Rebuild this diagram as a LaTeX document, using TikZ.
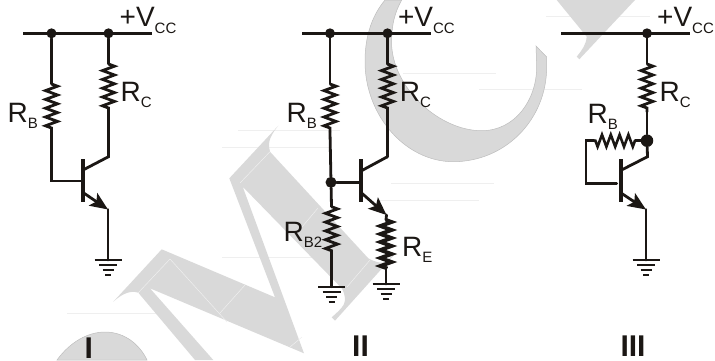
\documentclass[tikz,border=0pt]{standalone}
\usepackage{fontspec}
\setmainfont{Liberation Sans}
\usetikzlibrary{arrows.meta,decorations.pathmorphing}
\definecolor{ink}{HTML}{1B1714}
\definecolor{wm}{HTML}{D9D9D9}
\definecolor{wmedge}{HTML}{BDBDBD}
\definecolor{faint}{HTML}{EFEFEF}
\newcommand{\lab}[2]{{\fontsize{28}{30}\selectfont #1}\raisebox{-5.7pt}{\fontsize{15}{16}\selectfont #2}}
\newcommand{\vcc}{{\fontsize{28}{30}\selectfont +V}\raisebox{-6.5pt}{\fontsize{15}{16}\selectfont CC}}
\tikzset{
  wire/.style={draw=ink,line width=2.8pt,line cap=round,line join=miter},
  busline/.style={draw=ink,line width=3.2pt},
  zig/.style={draw=ink,line width=2.8pt,decorate,decoration={zigzag,segment length=8.8pt,amplitude=6pt}},
  zigheavy/.style={draw=ink,line width=3.8pt,decorate,decoration={zigzag,segment length=8pt,amplitude=5.6pt}},
  bar/.style={draw=ink,line width=3.4pt},
  emit/.style={draw=ink,line width=2.8pt,-{Stealth[length=18pt,width=15pt,inset=4pt]}},
  dot/.style={circle,fill=ink,inner sep=0pt,minimum size=10pt},
  bigdot/.style={circle,fill=ink,inner sep=0pt,minimum size=12.5pt},
  lbl/.style={inner sep=0pt,anchor=base west,text=ink},
  roman/.style={inner sep=0pt,anchor=base,text=ink,font=\bfseries\fontsize{30}{32}\selectfont},
  wmark/.style={fill=wm,draw=none},
  wmarkedge/.style={fill=wm,draw=wmedge,line width=0.5pt},
  fl/.style={draw=faint,line width=0.7pt},
  gnd/.pic={
    \draw[ink,line width=2.4pt] (-13.5,0) -- (13.5,0);
    \draw[ink,line width=2.4pt] (-9,5) -- (9,5);
    \draw[ink,line width=2.4pt] (-5.5,10) -- (5.5,10);
    \draw[ink,line width=2.4pt] (-3,15) -- (3,15);
  }
}
\begin{document}
\begin{tikzpicture}[x=1pt,y=-1pt]
\useasboundingbox (0,0) rectangle (715,360);
% faint scan lines
\foreach \a/\b/\y in {238/340/130,222/330/147,222/325/257,67/170/313,403/496/73,479/582/89,546/650/16,391/494/183,380/479/200}
  \draw[fl] (\a,\y) -- (\b,\y);
% watermark M
\fill[wmark] (278.3,125.7) .. controls (268,138) and (268,145) .. (270,151.7)
  -- (368.3,258.3) .. controls (375,262) and (380,263) .. (383.3,262.7)
  -- (395,254) -- (335,320.7) -- (331.7,317.3)
  .. controls (340,310) and (345,305) .. (345,300)
  .. controls (345,295) and (343,290) .. (341.7,288.3)
  -- (242.7,186.7) -- (304,353.3) -- (150,288.3) -- (213.3,360) -- (195,360)
  -- (138.3,292.7) .. controls (130,290) and (122,294) .. (113.3,301.7)
  -- (161.7,249.3) -- (275,297.3) -- (229.3,178.3) -- cycle;
\draw[faint,line width=0.5pt] (170,259) -- (138.3,292.7) (170,259) -- (227,322) (220,313) -- (245,285)
  (270,151.7) -- (240,183) (290,347) -- (302,337) (302,227) -- (318,208) (370,260) -- (347,287);
% watermark crescent
\path[wmarkedge] (385,0) .. controls (370,18) and (365,40) .. (365,61.7)
  .. controls (365,115) and (405,161.7) .. (453.3,161.7)
  .. controls (505,161.7) and (546.7,120) .. (546.7,66.7)
  -- (546.7,57) -- (536,46) -- (536.7,66.7)
  .. controls (536.7,100) and (515,130.7) .. (481.7,130.7)
  .. controls (440,130.7) and (395,90) .. (391.7,46.7)
  .. controls (391,25) and (395,12) .. (401.7,0) -- cycle;
% watermark top right
\fill[wmark] (556.7,0) -- (586.7,36.7) .. controls (586,45) and (582,50) .. (576.7,56.7)
  -- (579.3,59.3) -- (635,0) -- cycle;
% watermark blob
\path[wmarkedge] (57,360) .. controls (70,342) and (88,332) .. (105,332)
  .. controls (125,332) and (140,345) .. (147,360) -- cycle;

% ---------- circuit I
\coordinate (a1) at (23,33.3); \coordinate (a2) at (152,33.3);
\coordinate (a3) at (51.5,84); \coordinate (a4) at (51.5,132);
\coordinate (a5) at (51.5,181); \coordinate (a6) at (82,181);
\coordinate (a7) at (108.5,64); \coordinate (a8) at (108.5,112);
\coordinate (a9) at (108.5,156.7); \coordinate (a10) at (83,170);
\coordinate (a11) at (83,159); \coordinate (a12) at (83,202);
\coordinate (a13) at (83,192.5); \coordinate (a14) at (108,209.5);
\coordinate (a15) at (108,260);
\draw[busline] (a1) -- (a2);
\node[dot] (ad1) at (51.5,33.3) {};
\node[dot] (ad2) at (108.5,33.3) {};
\draw[wire] (ad1) -- (a3);
\draw[zig] (a3) -- (a4);
\draw[wire] (a4) -- (a5) -- (a6);
\draw[wire] (ad2) -- (a7);
\draw[zig] (a7) -- (a8);
\draw[wire] (a8) -- (a9) -- (a10);
\draw[bar] (a11) -- (a12);
\draw[emit] (a13) -- (a14);
\draw[wire] (a14) -- (a15);
\pic at (a15) {gnd};
\node[lbl] (avcc) at (119.5,26.7) {\vcc};
\node[lbl] (arb) at (7.5,122.7) {\lab{R}{B}};
\node[lbl] (arc) at (120.5,101.7) {\lab{R}{C}};
\node[roman] (n1) at (88.7,358) {I};

% ---------- circuit II
\coordinate (b1) at (302.3,33.3); \coordinate (b2) at (431,33.3);
\coordinate (b3) at (330,84); \coordinate (b4) at (330,132);
\coordinate (b6) at (360,182.3);
\coordinate (b7) at (387.5,64); \coordinate (b8) at (387.5,112);
\coordinate (b9) at (387.5,156.7); \coordinate (b10) at (361,171);
\coordinate (b11) at (361,159); \coordinate (b12) at (361,202);
\coordinate (b13) at (361,192.5); \coordinate (b14) at (386.5,215);
\coordinate (b15) at (386,220); \coordinate (b16) at (386,268.3);
\coordinate (b17) at (386,284);
\coordinate (b18) at (331.5,206.7); \coordinate (b19) at (331.5,255);
\coordinate (b20) at (331.5,286.7);
\draw[busline] (b1) -- (b2);
\node[dot] (bd1) at (330,33.3) {};
\node[dot] (bd2) at (387.5,33.3) {};
\node[dot,minimum size=11pt] (bd3) at (331,182.3) {};
\draw[wire] (bd1) -- (b3);
\draw[zig] (b3) -- (b4);
\draw[wire] (b4) -- (bd3);
\draw[wire] (bd3) -- (b6);
\draw[wire,line width=3.2pt] (bd2) -- (b7);
\draw[zig] (b7) -- (b8);
\draw[wire,line width=3.2pt] (b8) -- (b9);
\draw[wire] (b9) -- (b10);
\draw[bar] (b11) -- (b12);
\draw[emit] (b13) -- (b14);
\draw[wire] (b14) -- (b15);
\draw[zigheavy] (b15) -- (b16);
\draw[wire] (b16) -- (b17);
\pic at (b17) {gnd};
\draw[wire] (bd3) -- (b18);
\draw[zig] (b18) -- (b19);
\draw[wire] (b19) -- (b20);
\pic at (b20) {gnd};
\node[lbl] (bvcc) at (397.8,26.7) {\vcc};
\node[lbl] (brb) at (286.5,122.7) {\lab{R}{B}};
\node[lbl] (brc) at (399.7,101.7) {\lab{R}{C}};
\node[lbl] (brb2) at (283.5,241.7) {\lab{R}{B2}};
\node[lbl] (bre) at (402,256.7) {\lab{R}{E}};
\node[roman] (n2) at (360.5,356) {II};

% ---------- circuit III
\coordinate (c1) at (561,33.3); \coordinate (c2) at (690,33.3);
\coordinate (c7) at (647,64); \coordinate (c8) at (647,112);
\coordinate (c9) at (647.5,156.7); \coordinate (c10) at (621.5,170);
\coordinate (c11) at (621,159); \coordinate (c12) at (621,202);
\coordinate (c13) at (621,193); \coordinate (c14) at (646,209.5);
\coordinate (c15) at (646,260);
\coordinate (c20) at (635,140.7); \coordinate (c21) at (594,140.7);
\coordinate (c22) at (586,140.7); \coordinate (c23) at (586,183.3);
\coordinate (c24) at (616.7,183.3);
\draw[busline] (c1) -- (c2);
\node[dot] (cd1) at (647,33.3) {};
\node[bigdot] (cd2) at (647,140.7) {};
\draw[wire] (cd1) -- (c7);
\draw[zig] (c7) -- (c8);
\draw[wire] (c8) -- (cd2);
\draw[wire] (cd2) -- (c9) -- (c10);
\draw[bar,line width=4pt] (c11) -- (c12);
\draw[emit] (c13) -- (c14);
\draw[wire] (c14) -- (c15);
\pic at (c15) {gnd};
\draw[wire] (cd2) -- (c20);
\draw[zig,line width=2.6pt] (c20) -- (c21);
\draw[wire] (c21) -- (c22) -- (c23) -- (c24);
\node[lbl] (cvcc) at (657,26.7) {\vcc};
\node[lbl] (crb) at (587.5,123.3) {\lab{R}{B}};
\node[lbl] (crc) at (659.5,101.7) {\lab{R}{C}};
\node[roman] (n3) at (633,356) {III};
\end{tikzpicture}
\end{document}
